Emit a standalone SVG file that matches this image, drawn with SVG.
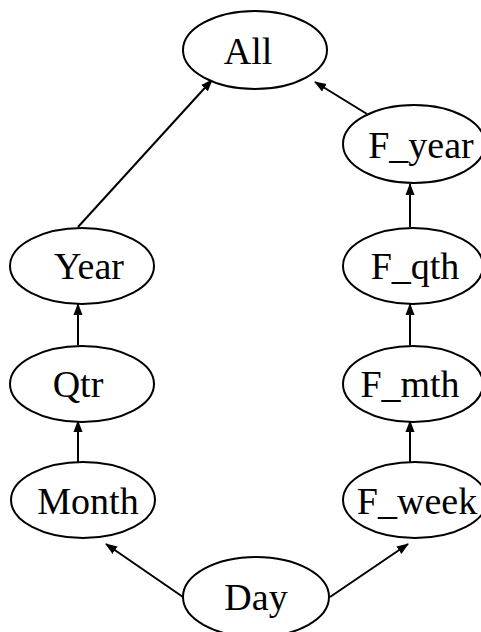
<svg xmlns="http://www.w3.org/2000/svg" width="481" height="632" viewBox="0 0 481 632">
<style>
.n ellipse{fill:#fff;stroke:#000;stroke-width:2}
.n text{font-family:"Liberation Serif","Times New Roman",serif;font-size:38px;text-anchor:middle;fill:#000}
.e line{stroke:#000;stroke-width:2;marker-end:url(#a)}
</style>
<defs><marker id="a" markerWidth="12" markerHeight="12" refX="11" refY="6" orient="auto" markerUnits="userSpaceOnUse" viewBox="0 0 12 12"><path d="M0,1.5 L12,6 L0,10.5 z" fill="#000"/></marker></defs>
<rect width="481" height="632" fill="#fff"/>
<g class="e">
<line x1="78" y1="227" x2="212" y2="80"/>
<line x1="367" y1="114" x2="315" y2="82"/>
<line x1="410" y1="227" x2="410" y2="184"/>
<line x1="410" y1="345" x2="410" y2="304"/>
<line x1="410" y1="462" x2="410" y2="421"/>
<line x1="78" y1="345" x2="78" y2="304"/>
<line x1="78" y1="462" x2="78" y2="421"/>
<line x1="183" y1="597" x2="106" y2="544"/>
<line x1="330" y1="597" x2="408" y2="544"/>
</g>
<g id="All" class="n"><ellipse cx="255" cy="50" rx="72" ry="39"/><text x="248" y="64">All</text></g>
<g id="F_year" class="n"><ellipse cx="414" cy="144" rx="71" ry="39"/><text x="421" y="158">F_year</text></g>
<g id="Year" class="n"><ellipse cx="82" cy="266" rx="72" ry="38"/><text x="89" y="279">Year</text></g>
<g id="F_qth" class="n"><ellipse cx="413" cy="266" rx="70" ry="38"/><text x="415" y="279">F_qth</text></g>
<g id="Qtr" class="n"><ellipse cx="82" cy="384" rx="72" ry="38"/><text x="78" y="397">Qtr</text></g>
<g id="F_mth" class="n"><ellipse cx="413" cy="384" rx="70" ry="38"/><text x="410" y="397">F_mth</text></g>
<g id="Month" class="n"><ellipse cx="83" cy="500" rx="72" ry="38"/><text x="88" y="514">Month</text></g>
<g id="F_week" class="n"><ellipse cx="415" cy="500" rx="72" ry="38"/><text x="417" y="514">F_week</text></g>
<g id="Day" class="n"><ellipse cx="256" cy="597" rx="73" ry="40"/><text x="256" y="610">Day</text></g>
</svg>
